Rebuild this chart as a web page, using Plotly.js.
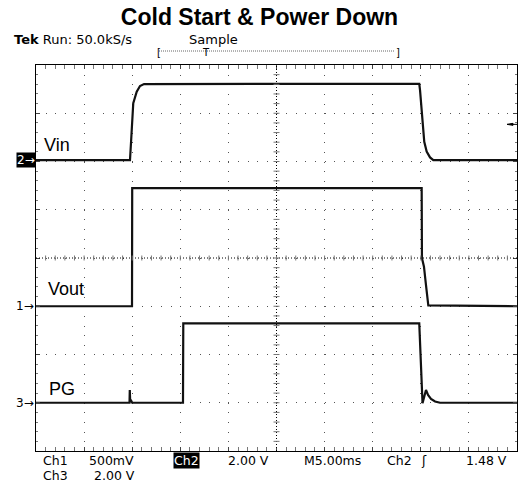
<!DOCTYPE html>
<html>
<head>
<meta charset="utf-8">
<script src="https://cdn.plot.ly/plotly-3.0.1.min.js"></script>
<style>html,body{margin:0;padding:0;background:#fff;}#chart{width:524px;height:484px;}</style>
</head>
<body>
<div id="chart"></div>
<script>
// ---- data (time in ms from left edge of screen, values in volts) ----
const vinT  = [0, 9.77, 9.88, 10.11, 10.47, 10.81, 11.23, 25, 39.84, 39.92, 40.02, 40.20, 40.36, 40.61, 40.96, 41.30, 50];
const vinV  = [0, 0, 0.75, 2.36, 2.83, 3.07, 3.15, 3.16, 3.16, 2.90, 2.36, 1.38, 0.76, 0.35, 0.11, 0.0, 0.0];
const voutT = [0, 9.98, 10.0, 40.09, 40.12, 40.33, 40.54, 40.68, 40.78, 50];
const voutV = [0, 0, 1.225, 1.225, 0.50, 0.41, 0.22, 0.085, 0.01, 0];
const pgT   = [0, 9.72, 9.75, 9.79, 9.9, 10.0, 15.28, 15.31, 39.84, 39.92, 40.02, 40.18, 40.54, 40.75, 41.06, 41.48, 42.0, 50];
const pgV   = [0, 0, 0.53, 0.05, 0.08, 0, 0, 3.29, 3.29, 2.60, 1.23, -0.02, 0.53, 0.32, 0.16, 0.05, 0, 0];
const channelNames = ['Vin', 'Vout', 'PG'];
const triggerLevel = 1.48;

// ---- plot geometry helpers (pixel -> paper) ----
const L = 36, R = 517, T = 65, B = 451;
const px = x => (x - L) / (R - L);
const py = y => (B - y) / (B - T);

const mono = 'DejaVu Sans, Verdana, sans-serif';
const sans = 'Liberation Sans, Arial, sans-serif';

const traceStyle = {mode: 'lines', line: {color: '#111', width: 2.2}, hoverinfo: 'skip', showlegend: false};
const data = [
  Object.assign({x: vinT, y: vinV, yaxis: 'y2', name: channelNames[0]}, traceStyle),
  Object.assign({x: voutT, y: voutV, yaxis: 'y3', name: channelNames[1]}, traceStyle),
  Object.assign({x: pgT, y: pgV, yaxis: 'y4', name: channelNames[2]}, traceStyle)
];

// ---- centre cross with minor ticks ----
const shapes = [];
shapes.push({type: 'line', xref: 'x', yref: 'y', x0: 25, x1: 25, y0: 0, y1: 8, line: {color: '#000', width: 1, dash: '1px,2px'}});
shapes.push({type: 'line', xref: 'x', yref: 'y', x0: 0, x1: 50, y0: 4, y1: 4, line: {color: '#000', width: 1, dash: '1px,2px'}});
const xu = 50 / (R - L), yu = 8 / (B - T);
for (let k = 1; k < 50; k++) {
  shapes.push({type: 'line', xref: 'x', yref: 'y', x0: k, x1: k, y0: 4 - 2.5 * yu, y1: 4 + 2.5 * yu, line: {color: '#777', width: 1}});
}
for (let k = 1; k < 40; k++) {
  const yy = k * 0.2;
  shapes.push({type: 'line', xref: 'x', yref: 'y', x0: 25 - 3 * xu, x1: 25 + 3 * xu, y0: yy, y1: yy, line: {color: '#777', width: 1}});
}
// record-length bracket line
shapes.push({type: 'line', xref: 'paper', yref: 'paper', x0: px(159), x1: px(395), y0: py(51), y1: py(51), line: {color: '#666', width: 1, dash: '1px,1px'}});
// trigger level marker (right edge)
const tv = 4 * 2 / (B - T) * 2; // ~4px in Vin volts
shapes.push({type: 'path', xref: 'paper', yref: 'y2',
  path: `M ${px(507)},${triggerLevel} L ${px(513)},${triggerLevel + tv} L ${px(513)},${triggerLevel - tv} Z`,
  fillcolor: '#000', line: {color: '#000', width: 1}});
shapes.push({type: 'line', xref: 'paper', yref: 'y2', x0: px(513), x1: px(517), y0: triggerLevel, y1: triggerLevel, line: {color: '#000', width: 1}});

// ---- annotations ----
const ann = [];
function txt(text, x, y, o) {
  ann.push(Object.assign({text: text, xref: 'paper', yref: 'paper', x: px(x), y: py(y), xanchor: 'left', yanchor: 'middle',
    showarrow: false, font: {family: mono, size: 12.5, color: '#000'}}, o || {}));
}
txt('<b>Tek</b> Run: 50.0kS/s', 12, 39.5, {font: {family: mono, size: 13, color: '#000'}});
txt('Sample', 187, 39.5, {font: {family: mono, size: 13, color: '#000'}});
txt('[', 155, 53, {font: {family: mono, size: 10, color: '#000'}});
txt(']', 394, 53, {font: {family: mono, size: 10, color: '#000'}});
txt('T', 200, 53, {font: {family: mono, size: 10, color: '#000'}});

txt('Ch1', 41, 460.5);
txt('500mV', 87, 460.5);
txt('Ch2', 173, 460.5, {bgcolor: '#000', font: {family: mono, size: 12.5, color: '#fff'}, borderpad: 0});
txt('2.00 V', 226, 460.5);
txt('M5.00ms', 302, 460.5);
txt('Ch2', 385, 460.5);
txt('ʃ', 419, 460.5);
txt('1.48 V', 464, 460.5);
txt('Ch3', 41, 475);
txt('2.00 V', 92, 475);

// channel ground markers
ann.push({text: '2→', xref: 'paper', yref: 'y2', x: 0, y: 0, xanchor: 'right', yanchor: 'middle', showarrow: false,
  bgcolor: '#000', borderpad: 0, font: {family: mono, size: 12, color: '#fff'}});
ann.push({text: '1→', xref: 'paper', yref: 'y3', x: 0, y: 0, xanchor: 'right', yanchor: 'middle', showarrow: false,
  font: {family: mono, size: 12, color: '#000'}});
ann.push({text: '3→', xref: 'paper', yref: 'y4', x: 0, y: 0, xanchor: 'right', yanchor: 'middle', showarrow: false,
  font: {family: mono, size: 12, color: '#000'}});

// channel names
ann.push({text: channelNames[0], xref: 'paper', yref: 'y2', x: px(42), y: 0, xanchor: 'left', yanchor: 'middle', yshift: 15, showarrow: false, font: {family: sans, size: 18, color: '#000'}});
ann.push({text: channelNames[1], xref: 'paper', yref: 'y3', x: px(46), y: 0, xanchor: 'left', yanchor: 'middle', yshift: 17, showarrow: false, font: {family: sans, size: 18, color: '#000'}});
ann.push({text: channelNames[2], xref: 'paper', yref: 'y4', x: px(47), y: 0, xanchor: 'left', yanchor: 'middle', yshift: 14, showarrow: false, font: {family: sans, size: 18, color: '#000'}});

const hidden = {overlaying: 'y', anchor: 'x', visible: false, fixedrange: true};
const layout = {
  width: 524, height: 484,
  margin: {l: L, r: 524 - R, t: T, b: 484 - B, pad: 0},
  paper_bgcolor: '#fff', plot_bgcolor: '#fff',
  showlegend: false,
  title: {text: '<b>Cold Start & Power Down</b>', font: {family: sans, size: 23, color: '#000'},
    x: 259.5 / 524, xanchor: 'center', xref: 'container', y: 1 - 17 / 484, yanchor: 'middle', yref: 'container'},
  xaxis: {range: [0, 50], dtick: 5, tick0: 0, showticklabels: false, ticks: 'inside', ticklen: 4, tickcolor: '#444',
    showline: true, linecolor: '#000', linewidth: 1, mirror: 'allticks', zeroline: false,
    showgrid: true, gridcolor: '#555', griddash: '1px,8.65px', gridwidth: 1,
    minor: {dtick: 1, ticks: 'inside', ticklen: 2, tickcolor: '#777', showgrid: false}, fixedrange: true},
  yaxis: {range: [0, 8], dtick: 1, tick0: 0, showticklabels: false, ticks: 'inside', ticklen: 4, tickcolor: '#444',
    showline: true, linecolor: '#000', linewidth: 1, mirror: 'allticks', zeroline: false,
    showgrid: true, gridcolor: '#555', griddash: '1px,8.62px', gridwidth: 1,
    minor: {dtick: 0.2, ticks: 'inside', ticklen: 2, tickcolor: '#777', showgrid: false}, fixedrange: true},
  yaxis2: Object.assign({range: [-6.03 * 2, (8 - 6.03) * 2]}, hidden),
  yaxis3: Object.assign({range: [-3.0 * 0.5, 5 * 0.5]}, hidden),
  yaxis4: Object.assign({range: [-1.0 * 2, 7 * 2]}, hidden),
  shapes: shapes,
  annotations: ann
};
Plotly.newPlot('chart', data, layout, {staticPlot: true, displayModeBar: false});
</script>
</body>
</html>
